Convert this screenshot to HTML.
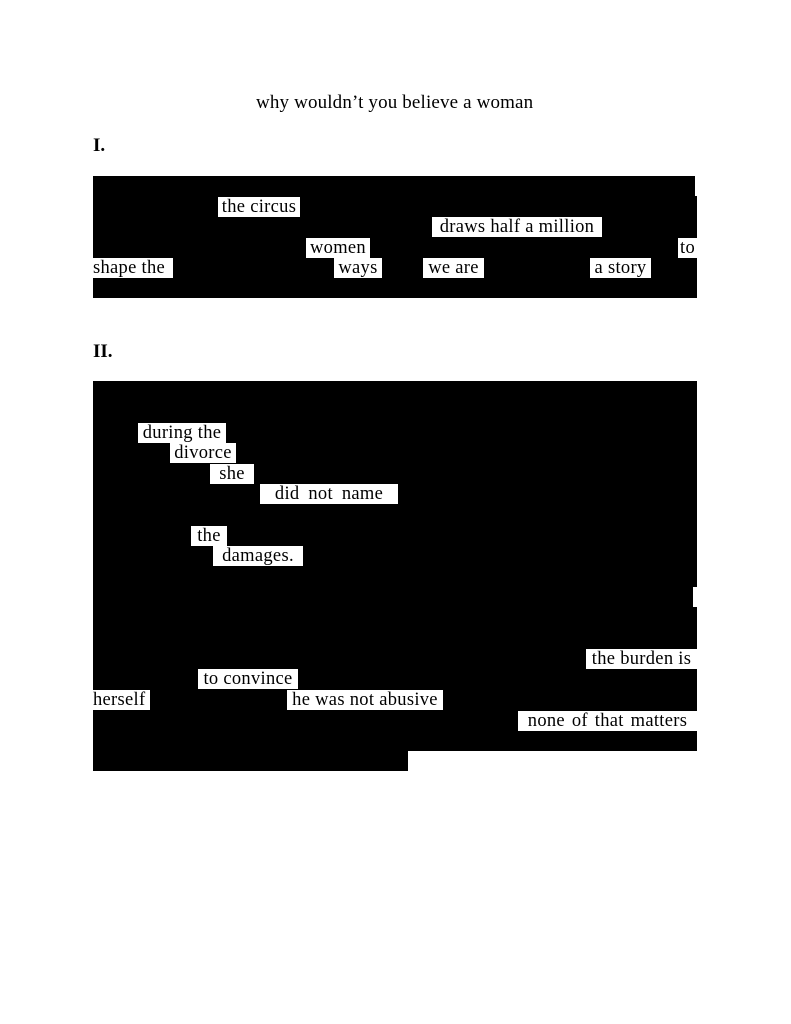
<!DOCTYPE html>
<html><head><meta charset="utf-8"><style>
html,body{margin:0;padding:0;background:#fff;}
body{width:791px;height:1024px;position:relative;overflow:hidden;font-family:"Liberation Serif",serif;}
.b{position:absolute;background:#000;}
.w{position:absolute;background:#fff;color:#000;font-size:18.5px;letter-spacing:0.3px;line-height:21px;height:20px;white-space:nowrap;text-align:center;overflow:hidden;}
.t{position:absolute;font-size:19px;letter-spacing:0.15px;white-space:nowrap;}
.h{position:absolute;font-size:19px;font-weight:bold;}
</style></head><body>
<div class="t" style="left:256px;top:92px;">why wouldn’t you believe a woman</div>
<div class="h" style="left:93px;top:135px;">I.</div>
<div class="h" style="left:93px;top:341px;">II.</div>

<div class="b" style="left:93px;top:176px;width:602px;height:21px;"></div>
<div class="b" style="left:93px;top:196px;width:604px;height:102px;"></div>

<div class="w" style="left:218px;top:197px;width:82px;">the circus</div>
<div class="w" style="left:432px;top:217px;width:170px;">draws half a million</div>
<div class="w" style="left:306px;top:238px;width:64px;">women</div>
<div class="w" style="left:678px;top:238px;width:19px;">to</div>
<div class="w" style="left:93px;top:258px;width:80px;text-align:left;">shape the</div>
<div class="w" style="left:334px;top:258px;width:48px;">ways</div>
<div class="w" style="left:423px;top:258px;width:61px;">we are</div>
<div class="w" style="left:590px;top:258px;width:61px;">a story</div>

<div class="b" style="left:93px;top:381px;width:604px;height:206px;"></div>
<div class="b" style="left:93px;top:587px;width:600px;height:21px;"></div>
<div class="b" style="left:93px;top:607px;width:604px;height:144px;"></div>
<div class="b" style="left:93px;top:750px;width:315px;height:21px;"></div>

<div class="w" style="left:138px;top:423px;width:88px;">during the</div>
<div class="w" style="left:170px;top:443px;width:66px;">divorce</div>
<div class="w" style="left:210px;top:464px;width:44px;">she</div>
<div class="w" style="left:260px;top:484px;width:138px;word-spacing:4px;">did not name</div>
<div class="w" style="left:191px;top:526px;width:36px;">the</div>
<div class="w" style="left:213px;top:546px;width:90px;">damages.</div>
<div class="w" style="left:586px;top:649px;width:111px;">the burden is</div>
<div class="w" style="left:198px;top:669px;width:100px;">to convince</div>
<div class="w" style="left:93px;top:690px;width:57px;text-align:left;">herself</div>
<div class="w" style="left:287px;top:690px;width:156px;">he was not abusive</div>
<div class="w" style="left:518px;top:711px;width:179px;word-spacing:2px;">none of that matters</div>
</body></html>
